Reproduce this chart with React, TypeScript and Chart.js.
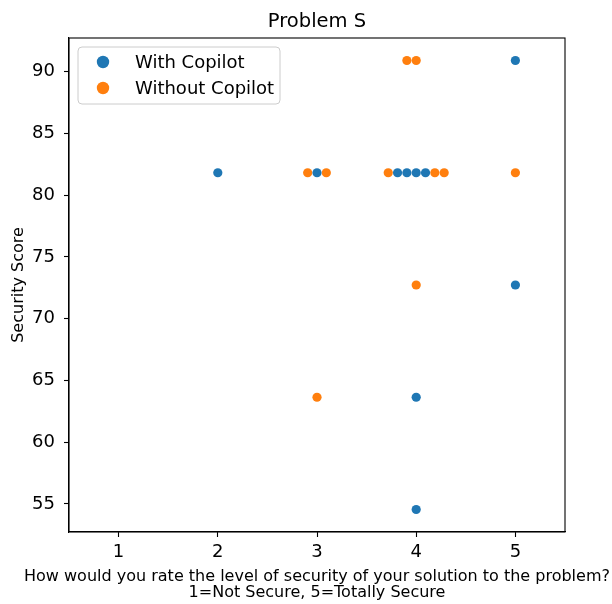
import React, { useEffect, useRef } from "react";
import { Chart, registerables } from "chart.js";

Chart.register(...registerables);

const titleText = "Problem S";
const xLabelLines = [
  "How would you rate the level of security of your solution to the problem?",
  "1=Not Secure, 5=Totally Secure",
];
const yLabelText = "Security Score";
const seriesNames = ["With Copilot", "Without Copilot"];
const seriesColors = ["#1f77b4", "#ff7f0e"];

const xTicks = [1, 2, 3, 4, 5];
const yTicks = [55, 60, 65, 70, 75, 80, 85, 90];

// swarm positions (rating + swarm offset) and security scores
const ratingWith = [2, 3, 3.812, 3.906, 4.0, 4.094, 4.0, 4.0, 5, 5];
const scoreWith = [81.82, 81.82, 81.82, 81.82, 81.82, 81.82, 63.64, 54.55, 90.91, 72.73];
const ratingWithout = [2.906, 3.094, 3.718, 4.188, 4.282, 3.906, 4.0, 4.0, 3.0, 5.0];
const scoreWithout = [81.82, 81.82, 81.82, 81.82, 81.82, 90.91, 90.91, 72.73, 63.64, 81.82];

const FONT = "'DejaVu Sans', sans-serif";

const decorPlugin = {
  id: "decor",
  afterDraw(chart: any) {
    const { ctx, chartArea } = chart;
    const { left, right, top, bottom } = chartArea;
    ctx.save();
    // spines
    ctx.strokeStyle = "#000";
    ctx.lineWidth = 1.1;
    ctx.strokeRect(left, top, right - left, bottom - top);
    const cx = (left + right) / 2;
    ctx.fillStyle = "#000";
    // title
    ctx.font = `19.5px ${FONT}`;
    ctx.textAlign = "center";
    ctx.textBaseline = "alphabetic";
    ctx.fillText(titleText, cx, 27);
    // x label
    ctx.font = `16px ${FONT}`;
    ctx.fillText(xLabelLines[0], cx, 581);
    ctx.fillText(xLabelLines[1], cx, 597);
    // y label
    ctx.save();
    ctx.translate(19, (top + bottom) / 2);
    ctx.rotate(-Math.PI / 2);
    ctx.textBaseline = "middle";
    ctx.fillText(yLabelText, 0, 0);
    ctx.restore();
    // legend
    const lx = left + 9, ly = top + 9, lw = 202, lh = 57;
    ctx.beginPath();
    if (ctx.roundRect) ctx.roundRect(lx, ly, lw, lh, 4);
    else ctx.rect(lx, ly, lw, lh);
    ctx.fillStyle = "rgba(255,255,255,0.8)";
    ctx.fill();
    ctx.strokeStyle = "#cccccc";
    ctx.lineWidth = 1;
    ctx.stroke();
    ctx.font = `18px ${FONT}`;
    ctx.textAlign = "left";
    ctx.textBaseline = "middle";
    const rows = [ly + 15, ly + 41];
    seriesNames.forEach((name, i) => {
      ctx.beginPath();
      ctx.arc(lx + 25, rows[i], 6.2, 0, Math.PI * 2);
      ctx.fillStyle = seriesColors[i];
      ctx.fill();
      ctx.fillStyle = "#000";
      ctx.fillText(name, lx + 57, rows[i] + 1);
    });
    ctx.restore();
  },
};

export default function App() {
  const ref = useRef<HTMLCanvasElement | null>(null);
  useEffect(() => {
    if (!ref.current) return;
    Chart.defaults.font.family = FONT;
    const chart = new Chart(ref.current, {
      type: "scatter",
      data: {
        datasets: [
          {
            label: seriesNames[0],
            data: ratingWith.map((x, i) => ({ x, y: scoreWith[i] })),
            backgroundColor: seriesColors[0],
            borderWidth: 0,
            pointRadius: 4.6,
          },
          {
            label: seriesNames[1],
            data: ratingWithout.map((x, i) => ({ x, y: scoreWithout[i] })),
            backgroundColor: seriesColors[1],
            borderWidth: 0,
            pointRadius: 4.6,
          },
        ],
      },
      options: {
        animation: false,
        responsive: false,
        devicePixelRatio: 1,
        layout: { padding: { top: 38, right: 47, left: 0, bottom: 0 } },
        plugins: {
          legend: { display: false },
          title: { display: false },
          tooltip: { enabled: false },
        },
        scales: {
          x: {
            type: "linear",
            min: 0.5,
            max: 5.5,
            afterBuildTicks: (s: any) => {
              s.ticks = xTicks.map((v) => ({ value: v }));
            },
            afterFit: (s: any) => {
              s.height = 72;
            },
            grid: { drawOnChartArea: false, drawTicks: true, tickLength: 5, color: "#000", tickWidth: 1.1 },
            border: { display: true, color: "#000", width: 1.1 },
            ticks: { color: "#000", font: { size: 18 }, padding: 5, autoSkip: false, maxRotation: 0 },
          },
          y: {
            type: "linear",
            min: 52.73,
            max: 92.73,
            afterBuildTicks: (s: any) => {
              s.ticks = yTicks.map((v) => ({ value: v }));
            },
            afterFit: (s: any) => {
              s.width = 69;
            },
            grid: { drawOnChartArea: false, drawTicks: true, tickLength: 5, color: "#000", tickWidth: 1.1 },
            border: { display: true, color: "#000", width: 1.1 },
            ticks: { color: "#000", font: { size: 18 }, padding: 9, autoSkip: false },
          },
        },
      },
      plugins: [decorPlugin],
    });
    return () => chart.destroy();
  }, []);
  return (
    <div style={{ position: "fixed", left: 0, top: 0, width: 612, height: 604, background: "#fff" }}>
      <canvas ref={ref} width={612} height={604} style={{ width: 612, height: 604, display: "block" }} />
    </div>
  );
}
